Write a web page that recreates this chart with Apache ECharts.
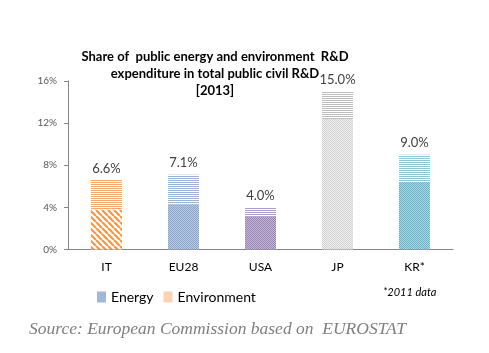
<!DOCTYPE html>
<html><head><meta charset="utf-8">
<script src="https://cdn.jsdelivr.net/npm/echarts@6/dist/echarts.min.js"></script>
<style>html,body{margin:0;padding:0;background:#fff}#c{width:489px;height:353px}</style>
</head><body><div id="c"></div>
<script>
const categories = ['IT', 'EU28', 'USA', 'JP', 'KR*'];
const energy = [3.8, 4.3, 3.1, 12.4, 6.4];
const totals = [6.6, 7.1, 4.0, 15.0, 9.0];
const environment = totals.map((t, i) => +(t - energy[i]).toFixed(1));
const yTicks = [0, 4, 8, 12, 16];

function tile(w, h, draw) {
  const c = document.createElement('canvas'); c.width = w; c.height = h;
  const g = c.getContext('2d'); g.fillStyle = '#fff'; g.fillRect(0, 0, w, h); draw(g);
  return { image: c, repeat: 'repeat' };
}
function checker(fg, bg) {
  return tile(2, 2, g => { g.fillStyle = bg; g.fillRect(0,0,2,2); g.fillStyle = fg; g.fillRect(0,0,1,1); g.fillRect(1,1,1,1); });
}
function hstripes(fg) {
  return tile(2, 2, g => { g.fillStyle = fg; g.fillRect(0,0,2,1); });
}
function diag(fg) {
  return tile(6, 6, g => {
    g.strokeStyle = fg; g.lineWidth = 2.2;
    g.beginPath();
    for (let k = -12; k <= 12; k += 6) { g.moveTo(k, 0); g.lineTo(k + 6, 6); }
    g.stroke();
  });
}
const lowerFills = [
  diag('#F79646'),
  checker('#86A2CA', '#BCCDE4'),
  checker('#9482B2', '#C6B9D8'),
  checker('#D3D3D3', '#EEEEEE'),
  checker('#66B2C6', '#ACD7E3')
];
const upperFills = [
  hstripes('#F9A66C'),
  hstripes('#98B1D4'),
  hstripes('#AD9CC9'),
  hstripes('#BDBDBD'),
  hstripes('#8BC6D6')
];

const chart = echarts.init(document.getElementById('c'), null, { renderer: 'canvas' });
const font = 'Lato, "Open Sans", sans-serif';
chart.setOption({
  animation: false,
  backgroundColor: '#fff',
  title: {
    text: 'Share of  public energy and environment  R&D\nexpenditure in total public civil R&D\n[2013]',
    left: 210, top: 43, textAlign: 'center',
    textStyle: { fontFamily: font, fontWeight: 'bold', fontSize: 13, color: '#000', lineHeight: 17 }
  },
  legend: {
    left: 92, top: 285, itemWidth: 9, itemHeight: 11, itemGap: 10, icon: 'rect',
    textStyle: { fontFamily: font, fontSize: 14, color: '#000' },
    data: ['Energy', 'Environment']
  },
  grid: { left: 68, right: 36, top: 81, bottom: 103.5 },
  xAxis: {
    type: 'category', data: categories,
    axisLine: { lineStyle: { color: '#868686' } },
    axisTick: { lineStyle: { color: '#868686' }, length: 5 },
    axisLabel: { fontFamily: font, fontSize: 12, color: '#000', margin: 12 }
  },
  yAxis: {
    type: 'value', min: yTicks[0], max: yTicks[yTicks.length - 1], interval: yTicks[1] - yTicks[0],
    splitLine: { show: false },
    axisLine: { show: true, lineStyle: { color: '#868686' } },
    axisTick: { show: true, length: 4, lineStyle: { color: '#868686' } },
    axisLabel: { fontFamily: font, fontSize: 10, color: '#595959', formatter: '{value}%', margin: 11 }
  },
  series: [
    {
      name: 'Energy', type: 'bar', stack: 's', barWidth: 31,
      itemStyle: { color: checker('#86A2CA', '#BCCDE4') },
      data: energy.map((v, i) => ({ value: v, itemStyle: { color: lowerFills[i] } }))
    },
    {
      name: 'Environment', type: 'bar', stack: 's', barWidth: 31,
      itemStyle: { color: hstripes('#F9A66C') },
      label: {
        show: true, position: 'top', distance: 5, fontFamily: font, fontSize: 13, color: '#404040',
        formatter: p => totals[p.dataIndex].toFixed(1) + '%'
      },
      data: environment.map((v, i) => ({ value: v, itemStyle: { color: upperFills[i] } }))
    }
  ],
  graphic: [
    { type: 'text', left: 383, top: 287, style: { text: '*2011 data', font: 'italic 11px ' + font, fill: '#000' } },
    { type: 'text', left: 29, top: 320, style: { text: 'Source: European Commission based on  EUROSTAT', font: 'italic 17.5px "Liberation Serif", serif', fill: '#7F7F7F' } }
  ]
});
</script></body></html>
